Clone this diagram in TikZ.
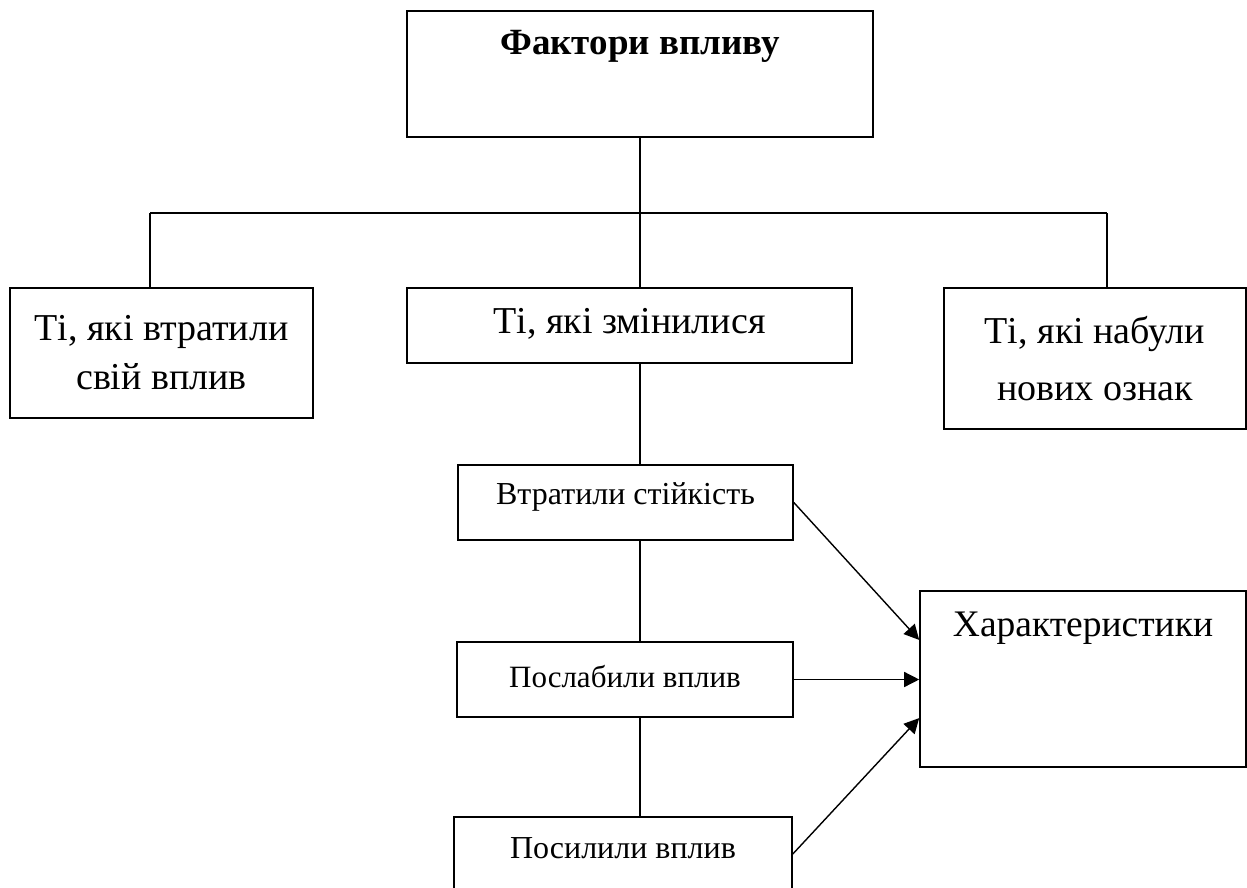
\documentclass[tikz,border=0pt]{standalone}
\usepackage{fontspec}
\setmainfont{Liberation Serif}
\usetikzlibrary{arrows.meta,calc}
\begin{document}
\begin{tikzpicture}[x=1pt,y=-1pt,
  box/.style={draw, line width=1.6pt, inner sep=0pt, align=center},
  bigtext/.style={font=\fontsize{38}{49}\selectfont},
  smalltext/.style={font=\fontsize{32}{40}\selectfont},
  conn/.style={line width=1.4pt},
  arr/.style={line width=1.4pt, -{Triangle[length=15pt,width=15pt]}}]
\useasboundingbox (0,0) rectangle (1247,888);
% top
\node[box, minimum width=466pt, minimum height=126pt,
  label={[anchor=base, yshift=-44pt, font=\fontsize{37}{44}\selectfont\bfseries]north:Фактори впливу}] (top) at (640,74) {};
% second row
\node[box, bigtext, minimum width=303pt, minimum height=130pt] (left) at (161.5,353) {Ті, які втратили\\свій вплив};
\node[box, minimum width=445pt, minimum height=75pt,
  label={[anchor=base, yshift=-46pt, bigtext]north:Ті, які змінилися}] (mid) at (629.5,325.5) {};
\node[box, minimum width=302pt, minimum height=141pt, font=\fontsize{38}{57}\selectfont] (right) at (1095,358.5) {Ті, які набули\\нових ознак};
% third column
\node[box, minimum width=335pt, minimum height=75pt,
  label={[anchor=base, yshift=-40pt, smalltext]north:Втратили стійкість}] (w1) at (625.5,502.5) {};
\node[box, minimum width=336pt, minimum height=75pt,
  label={[anchor=base, yshift=-46pt, font=\fontsize{31}{40}\selectfont]north:Послабили вплив}] (w2) at (625,679.5) {};
\node[box, minimum width=338pt, minimum height=74pt,
  label={[anchor=base, yshift=-42pt, smalltext]north:Посилили вплив}] (w3) at (623,854) {};
% characteristics
\node[box, minimum width=326pt, minimum height=176pt,
  label={[anchor=base, yshift=-46pt, font=\fontsize{37.5}{45}\selectfont]north:Характеристики}] (ch) at (1083,679) {};
% bus
\coordinate (bl) at (150,213);
\coordinate (bm) at (640,213);
\coordinate (br) at (1107,213);
\draw[conn] (top.south) -- (bm);
\draw[conn] (bl) -- (br);
\draw[conn] (bl) -- (bl |- left.north);
\draw[conn] (bm) -- (bm |- mid.north);
\draw[conn] (br) -- (br |- right.north);
\draw[conn] (mid.south -| bm) -- (w1.north -| bm);
\draw[conn] (w1.south -| bm) -- (w2.north -| bm);
\draw[conn] (w2.south -| bm) -- (w3.north -| bm);
% arrows
\draw[arr] (w1.east) -- ($(ch.north west)!0.28!(ch.south west)$);
\draw[arr] (w2.east) -- (w2.east -| ch.west);
\draw[arr] (w3.east) -- ($(ch.north west)!0.72!(ch.south west)$);
\end{tikzpicture}
\end{document}
